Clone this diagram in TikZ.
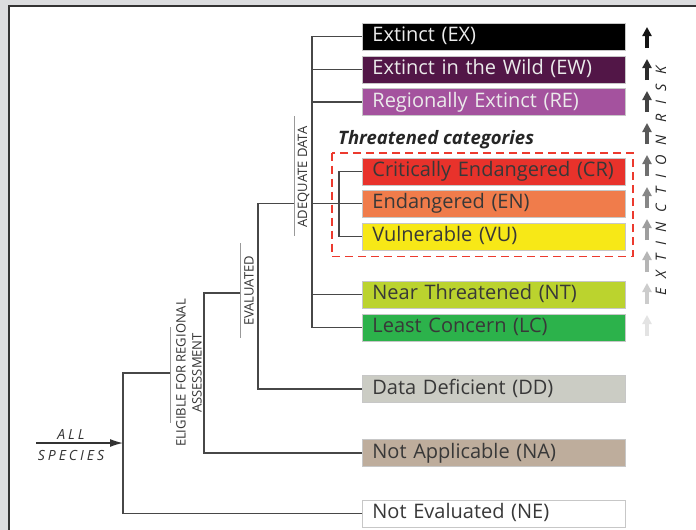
\documentclass[tikz,border=0pt]{standalone}
\usepackage{fontspec}
\setmainfont{Open Sans}
\usetikzlibrary{arrows.meta}

\definecolor{panelgray}{HTML}{DCDDDF}
\definecolor{threatred}{HTML}{EC3A2E}
\definecolor{cEX}{HTML}{000000}
\definecolor{cEW}{HTML}{521647}
\definecolor{cRE}{HTML}{A4529E}
\definecolor{cCR}{HTML}{E8322B}
\definecolor{cEN}{HTML}{F07C4B}
\definecolor{cVU}{HTML}{F7E817}
\definecolor{cNT}{HTML}{BBD32E}
\definecolor{cLC}{HTML}{2CB24B}
\definecolor{cDD}{HTML}{CBCCC4}
\definecolor{cNA}{HTML}{BEAD9C}

\begin{document}
\begin{tikzpicture}[x=1pt, y=-1pt, >={Latex[length=13pt,width=8pt]},
    catbox/.style={anchor=west, minimum height=27pt, text width=243pt,
        inner xsep=10pt, inner ysep=0pt, align=left, draw=black!22,
        line width=0.8pt, font=\fontsize{20}{22}\selectfont,
        text height=14.5pt, text depth=4pt, text=black!78},
    darkbox/.style={catbox, text=white!92!black},
    branch/.style={draw=black!72, line width=1.4pt},
    tagline/.style={draw=black!40, line width=1pt},
    taglabel/.style={rotate=90, font=\fontsize{13}{16}\selectfont,
        text=black!80, align=center, inner sep=0pt}]
    \useasboundingbox (0,0) rectangle (696,530);

    % ==== PANEL ====
    \fill[panelgray] (0,0) rectangle (696,530);
    \fill[white] (9,6) rectangle (700,534);
    \draw[black!80, line width=1.5pt] (9,534) -- (9,6) -- (700,6);

    % ==== CATEGORIES ====
    \node[darkbox, fill=cEX] (ex) at (362,36.5) {Extinct (EX)};
    \node[darkbox, fill=cEW] (ew) at (362,69.5) {Extinct in the Wild (EW)};
    \node[darkbox, fill=cRE] (re) at (362,102) {Regionally Extinct (RE)};
    \node[catbox, fill=cCR] (cr) at (362,171.5) {Critically Endangered (CR)};
    \node[catbox, fill=cEN] (en) at (362,203.5) {Endangered (EN)};
    \node[catbox, fill=cVU] (vu) at (362,236.5) {Vulnerable (VU)};
    \node[catbox, fill=cNT] (nt) at (362,294.5) {Near Threatened (NT)};
    \node[catbox, fill=cLC] (lc) at (362,327.5) {Least Concern (LC)};
    \node[catbox, fill=cDD] (dd) at (362,389) {Data Deficient (DD)};
    \node[catbox, fill=cNA] (na) at (362,453) {Not Applicable (NA)};
    \node[catbox, fill=white] (ne) at (362,513.5) {Not Evaluated (NE)};

    % ==== THREATENED BOX ====
    \draw[threatred, line width=1.8pt, dash pattern=on 8pt off 5pt]
        ([shift={(-30,-5)}]cr.north west) rectangle ([shift={(7,6)}]vu.south east);
    \node[anchor=west, inner sep=0pt, text=black!85,
        font=\fontsize{18.5}{20}\selectfont\bfseries\itshape] (threatlbl)
        at (338,140) {Threatened categories};

    % ==== LABELS ====
    \node[font=\fontsize{14}{16}\selectfont\itshape\addfontfeature{LetterSpace=21},
        text=black!80, inner sep=0pt] (alltxt) at (71,434) {ALL};
    \node[font=\fontsize{14}{16}\selectfont\itshape\addfontfeature{LetterSpace=21},
        text=black!80, inner sep=0pt] (spectxt) at (71,455) {SPECIES};

    \draw[tagline] (294,116) -- (294,236);
    \node[taglabel] (adqlbl) at (303.5,177) {ADEQUATE DATA};
    \draw[tagline] (240,243) -- (240,338);
    \node[taglabel] (evallbl) at (249,291) {EVALUATED};
    \draw[tagline] (170,327) -- (170,423);
    \node[taglabel] (eliglbl) at (189,373) {ELIGIBLE FOR REGIONAL\\ASSESSMENT};

    % ==== TREE ====
    \coordinate (allstart) at (36,443);
    \coordinate (root) at (123,443);
    \coordinate (tagelig) at (170,373);
    \coordinate (jelig) at (204,293);
    \coordinate (tageval) at (240,293);
    \coordinate (jeval) at (258,203.5);
    \coordinate (tagadq) at (294,203.5);
    \coordinate (jadq) at (312,203.5);
    \coordinate (jthr) at (339,203.5);

    \draw[branch] (ne.west) -| (root) |- (tagelig);
    \draw[branch] (na.west) -| (jelig) -- (tageval);
    \draw[branch] (dd.west) -| (jeval) -- (tagadq);
    \draw[branch] (ex.west) -| (jadq) |- (lc.west);
    \draw[branch] (ew.west) -- (ew.west -| jadq);
    \draw[branch] (re.west) -- (re.west -| jadq);
    \draw[branch] (nt.west) -- (nt.west -| jadq);
    \draw[branch] (jadq) -- (en.west);
    \draw[branch] (cr.west) -| (jthr) |- (vu.west);
    \draw[->, black!80, line width=1.2pt] (allstart) -- (root);

    % ==== EXTINCTION RISK ====
    \foreach \i in {0,...,9} {
        \pgfmathtruncatemacro{\shade}{92-9*\i}
        \draw[-{Triangle[length=9pt,width=9pt]}, line width=3.2pt, black!\shade]
            (647,{48+32*\i}) -- (647,{27+32*\i});
    }
    \node[rotate=90, inner sep=0pt, text=black!85,
        font=\fontsize{14.5}{16}\selectfont\itshape\addfontfeature{LetterSpace=64}]
        (risk) at (661,181) {EXTINCTION RISK};
\end{tikzpicture}
\end{document}
